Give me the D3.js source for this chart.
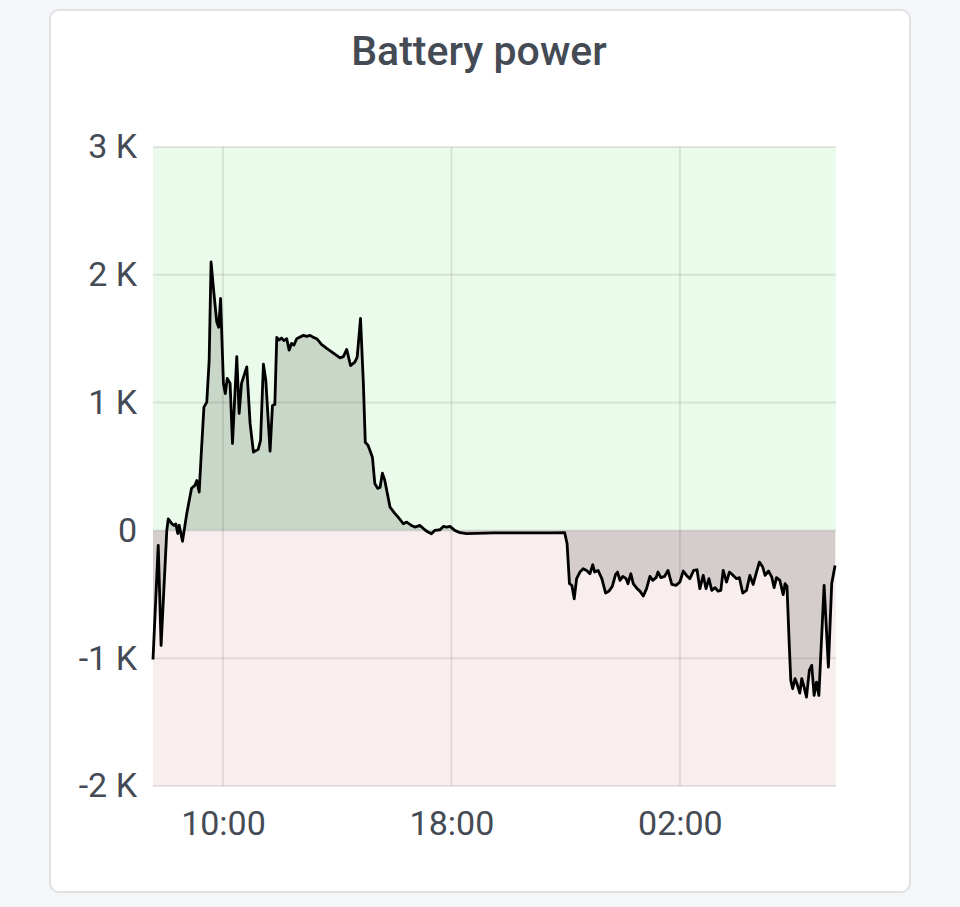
<!DOCTYPE html>
<html>
<head>
<meta charset="utf-8">
<script src="https://cdn.jsdelivr.net/npm/d3@7/dist/d3.min.js"></script>
<style>
  html, body { margin: 0; padding: 0; background: #f5f6f8; }
  svg { display: block; }
  text { font-family: Roboto, "Noto Sans", sans-serif; }
</style>
</head>
<body>
<svg id="chart" width="960" height="907"></svg>
<script>
// ---- data ----
const title = "Battery power";
const times = [
  "07:33","07:44","07:50","08:02","08:05","08:12","08:17","08:21","08:25","08:28",
  "08:35","08:44","08:54","09:01","09:05","09:10","09:14","09:20","09:26","09:31",
  "09:35","09:41","09:47","09:51","09:55","10:01","10:05","10:09","10:15","10:20",
  "10:29","10:34","10:39","10:50","10:57","11:04","11:07","11:14","11:19","11:25",
  "11:30","11:39","11:44","11:49","11:53","11:58","12:03","12:08","12:14","12:19",
  "12:24","12:29","12:35","12:42","12:49","12:56","13:03","13:10","13:17","13:27",
  "13:38","13:52","14:06","14:13","14:20","14:28","14:37","14:42","14:49","14:55",
  "14:59","15:05","15:14","15:19","15:25","15:30","15:35","15:40","15:51","16:01",
  "16:08","16:19","16:26","16:36","16:43","16:54","17:04","17:11","17:18","17:25",
  "17:36","17:43","17:50","17:57","18:07","18:18","18:32","19:30","20:30","21:30",
  "21:58","22:03","22:08","22:13","22:18","22:23","22:30","22:37","22:44","22:51",
  "22:57","23:01","23:08","23:16","23:24","23:31","23:38","23:45","23:49","23:54",
  "00:00","00:07","00:11","00:17","00:22","00:30","00:36","00:43","00:50","00:57",
  "01:03","01:10","01:14","01:20","01:28","01:35","01:43","01:52","02:00","02:07",
  "02:14","02:21","02:29","02:36","02:42","02:49","02:55","03:01","03:07","03:14",
  "03:20","03:26","03:31","03:38","03:44","03:52","03:59","04:05","04:12","04:20",
  "04:27","04:34","04:41","04:47","04:54","04:59","05:06","05:13","05:18","05:23",
  "05:30","05:37","05:41","05:45","05:50","05:53","05:57","06:02","06:06","06:12",
  "06:16","06:21","06:26","06:32","06:37","06:42","06:47","06:52","07:03","07:12",
  "07:19","07:26"
];
const power = [
  -1010,-117,-900,0,90,55,40,50,-25,40,
  -85,133,330,352,390,300,573,965,1004,1330,
  2100,1855,1630,1590,1815,1150,1070,1190,1150,680,
  1360,915,1150,1280,837,612,620,634,705,1300,
  1175,620,978,986,1510,1490,1505,1485,1500,1410,
  1463,1450,1500,1513,1526,1518,1526,1510,1500,1455,
  1424,1387,1350,1360,1416,1290,1317,1356,1658,1150,
  690,665,573,367,329,336,448,391,182,133,
  104,52,65,39,26,39,5,-13,-26,0,
  5,31,26,31,0,-18,-26,-20,-20,-20,
  -18,-104,-417,-430,-535,-378,-326,-300,-313,-339,
  -269,-326,-313,-378,-490,-475,-438,-344,-326,-391,
  -360,-378,-417,-339,-417,-456,-475,-514,-456,-360,
  -391,-370,-326,-370,-360,-313,-423,-430,-404,-318,
  -352,-378,-313,-308,-456,-352,-456,-378,-469,-448,
  -475,-469,-313,-404,-326,-352,-378,-370,-490,-469,
  -352,-423,-326,-248,-287,-352,-318,-365,-448,-370,
  -391,-503,-417,-438,-913,-1174,-1239,-1160,-1200,-1273,
  -1160,-1226,-1304,-1095,-1056,-1291,-1187,-1291,-430,-1070,
  -417,-274
];
const xDomain = ["07:33", "07:28"];           // start, end (next day)
const xTickTimes = ["10:00", "18:00", "02:00"];
const xTickLabels = ["10:00", "18:00", "02:00"];
const yTickValues = [-2000, -1000, 0, 1000, 2000, 3000];
const yTickLabels = ["-2 K", "-1 K", "0", "1 K", "2 K", "3 K"];

// ---- helpers ----
function toDate(hhmm, dayOffset) {
  const [h, m] = hhmm.split(":").map(Number);
  return new Date(2024, 0, 1 + dayOffset, h, m);
}
function parseSeq(arr) {
  let day = 0, prev = -1;
  return arr.map(s => {
    const [h, m] = s.split(":").map(Number);
    const mins = h * 60 + m;
    if (prev >= 0 && mins < prev) day++;
    prev = mins;
    return toDate(s, day);
  });
}
const dates = parseSeq(times);
const data = dates.map((d, i) => ({ t: d, v: power[i] }));
const tickDates = parseSeq(["07:33"].concat(xTickTimes)).slice(1);

// ---- layout ----
const svg = d3.select("#chart");
const L = 153, R = 836, T = 147, B = 786;
const textColor = "#454b55";

svg.append("rect")
  .attr("x", 50).attr("y", 10).attr("width", 860).attr("height", 882)
  .attr("rx", 9).attr("fill", "#ffffff").attr("stroke", "#dfe1e5").attr("stroke-width", 2);

svg.append("text")
  .attr("x", 479).attr("y", 65).attr("text-anchor", "middle")
  .attr("font-size", 41).attr("font-weight", 500).attr("fill", textColor)
  .text(title);

const x = d3.scaleTime()
  .domain([toDate(xDomain[0], 0), toDate(xDomain[1], 1)])
  .range([L, R]);
const y = d3.scaleLinear().domain([-2000, 3000]).range([B, T]);

// background bands
svg.append("rect").attr("x", L).attr("width", R - L)
  .attr("y", y(3000)).attr("height", y(0) - y(3000)).attr("fill", "#ebfbeb");
svg.append("rect").attr("x", L).attr("width", R - L)
  .attr("y", y(0)).attr("height", y(-2000) - y(0)).attr("fill", "#f9eeee");

// grid
const grid = svg.append("g");
grid.selectAll("line.h").data(yTickValues).join("line")
  .attr("x1", L).attr("x2", R)
  .attr("y1", d => y(d)).attr("y2", d => y(d))
  .attr("stroke", "rgba(0,0,0,0.09)").attr("stroke-width", 2);
grid.selectAll("line.v").data(tickDates).join("line")
  .attr("x1", d => x(d)).attr("x2", d => x(d))
  .attr("y1", T).attr("y2", B)
  .attr("stroke", "rgba(0,0,0,0.09)").attr("stroke-width", 2);

// area + line
const area = d3.area().x(d => x(d.t)).y0(y(0)).y1(d => y(d.v));
const line = d3.line().x(d => x(d.t)).y(d => y(d.v));
svg.append("path").datum(data).attr("d", area).attr("fill", "rgba(0,0,0,0.14)");
svg.append("path").datum(data).attr("d", line)
  .attr("fill", "none").attr("stroke", "#000").attr("stroke-width", 2.8)
  .attr("stroke-linejoin", "round");

// axes
const yAxis = d3.axisLeft(y).tickValues(yTickValues)
  .tickFormat((d, i) => yTickLabels[i]).tickSize(0).tickPadding(16);
const gy = svg.append("g").attr("transform", `translate(${L},0)`).call(yAxis);
gy.select(".domain").remove();
gy.selectAll("text").attr("font-size", 34).attr("fill", textColor)
  .attr("font-family", "Roboto, sans-serif");

const xAxis = d3.axisBottom(x).tickValues(tickDates)
  .tickFormat((d, i) => xTickLabels[i]).tickSize(0).tickPadding(25);
const gx = svg.append("g").attr("transform", `translate(0,${B})`).call(xAxis);
gx.select(".domain").remove();
gx.selectAll("text").attr("font-size", 34).attr("fill", textColor)
  .attr("font-family", "Roboto, sans-serif");
</script>
</body>
</html>
